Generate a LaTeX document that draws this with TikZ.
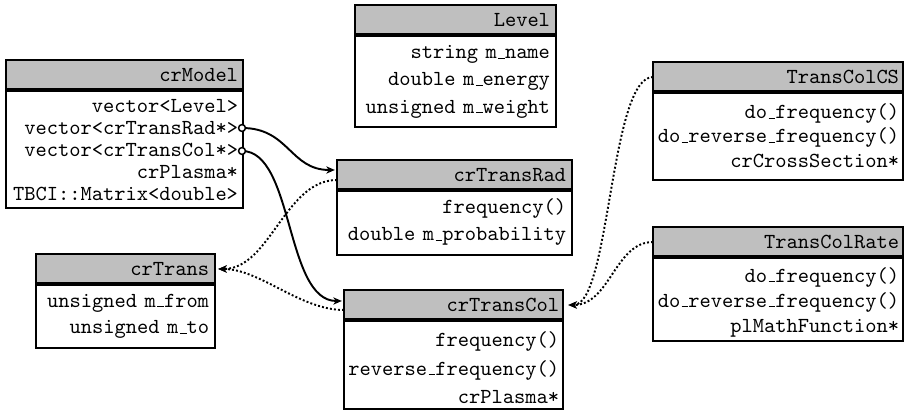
\documentclass[tikz,border=0pt]{standalone}
\usetikzlibrary{arrows.meta,calc}
\newcommand{\pxu}{0.4667pt}
\newcommand{\clsfont}{\fontencoding{OT1}\fontfamily{cmtt}\selectfont}
\tikzset{
  % header of a class box: width, side padding
  hdr/.style n args={2}{draw, line width=0.7pt, fill=gray!50, anchor=north west,
    outer sep=0pt, inner sep=0pt, font=\clsfont\fontsize{10}{12}\selectfont, align=right,
    minimum width={#1*\pxu}, text width={(#1-2*#2)*\pxu}, minimum height={30*\pxu}},
  % body of a class box: width, side padding, height, line spacing, first baseline
  body/.style n args={5}{draw, line width=0.7pt, fill=white, anchor=north west,
    outer sep=0pt, inner sep=0pt, font=\clsfont\fontsize{10}{#4}\selectfont, align=right,
    minimum width={#1*\pxu}, text width={(#1-2*#2)*\pxu}, minimum height={#3*\pxu},
    text height=0pt, text depth={(#3-2*#5)*\pxu}},
  sepline/.style={line width=1.6pt},
  assoc/.style={line width=0.9pt, -{Stealth[length=4pt,width=3.4pt,inset=1.2pt]}, shorten >=1pt},
  inherit/.style={line width=0.9pt, densely dotted, -{Stealth[length=4pt,width=3.4pt,inset=1.2pt]}, shorten >=1.5pt},
  holder/.style={line width=0.7pt, fill=white},
}
\begin{document}
\begin{tikzpicture}[x=\pxu, y=-\pxu]
\useasboundingbox (0,0) rectangle (904,410);

% Level
\node[hdr={201}{6}] (lvl) at (355,5) {Level};
\node[body={201}{6}{92}{12.76}{23.5}] (lvl-b) at (lvl.south west)
  {string m\_name\\double m\_energy\\unsigned m\_weight};
\draw[sepline] (lvl.south west) -- (lvl.south east);

% crModel
\node[hdr={237}{5}] (mdl) at (6,60) {crModel};
\node[body={237}{5}{118}{10.3}{22.2}] (mdl-b) at (mdl.south west)
  {vector<Level>\\vector<crTransRad*>\\vector<crTransCol*>\\crPlasma*\\TBCI::Matrix<double>};
\draw[sepline] (mdl.south west) -- (mdl.south east);

% crTransRad
\node[hdr={235}{6}] (rad) at (337,160) {crTransRad};
\node[body={235}{6}{65}{12.6}{23.5}] (rad-b) at (rad.south west)
  {frequency()\\double m\_probability};
\draw[sepline] (rad.south west) -- (rad.south east);

% crTransCol
\node[hdr={219}{4}] (col) at (344,290) {crTransCol};
\node[body={219}{4}{89}{13.1}{27}] (col-b) at (col.south west)
  {frequency()\\reverse\_frequency()\\crPlasma*};
\draw[sepline] (col.south west) -- (col.south east);

% TransColCS
\node[hdr={250}{4}] (cs) at (653,62) {TransColCS};
\node[body={250}{4}{88}{11.4}{26.5}] (cs-b) at (cs.south west)
  {do\_frequency()\\do\_reverse\_frequency()\\crCrossSection*};
\draw[sepline] (cs.south west) -- (cs.south east);

% TransColRate
\node[hdr={250}{4}] (rate) at (653,227) {TransColRate};
\node[body={250}{4}{84}{11.7}{25.2}] (rate-b) at (rate.south west)
  {do\_frequency()\\do\_reverse\_frequency()\\plMathFunction*};
\draw[sepline] (rate.south west) -- (rate.south east);

% crTrans
\node[hdr={179}{6}] (trn) at (36,254) {crTrans};
\node[body={179}{6}{64}{12.3}{23.2}] (trn-b) at (trn.south west)
  {unsigned m\_from\\unsigned m\_to};
\draw[sepline] (trn.south west) -- (trn.south east);

% ends of the two container members
\coordinate (mRad) at ($(mdl-b.north east)+(-1,38)$);
\coordinate (mCol) at ($(mdl-b.north east)+(-1,61)$);

% aggregation links
\draw[assoc] (mRad) .. controls +(47,0) and +(-47,0) .. ($(rad.west)+(0,-5)$);
\draw[assoc] (mCol) .. controls +(52,0) and +(-59,0) .. ($(col.west)+(0,-4)$);
\draw[holder] (mRad) circle[radius=1.6pt];
\draw[holder] (mCol) circle[radius=1.6pt];

% inheritance links
\draw[inherit] ($(rad.west)+(0,5)$) .. controls +(-52,0) and +(55,0) .. (trn.east);
\draw[inherit] ($(col.west)+(0,5)$) .. controls +(-44,0) and +(45,0) .. (trn.east);
\draw[inherit, shorten >=2.5pt] (cs.west) .. controls +(-43,0) and +(47,0) .. (col.east);
\draw[inherit, shorten >=2.5pt] (rate.west) .. controls +(-38,0) and +(47,0) .. (col.east);
\end{tikzpicture}
\end{document}
